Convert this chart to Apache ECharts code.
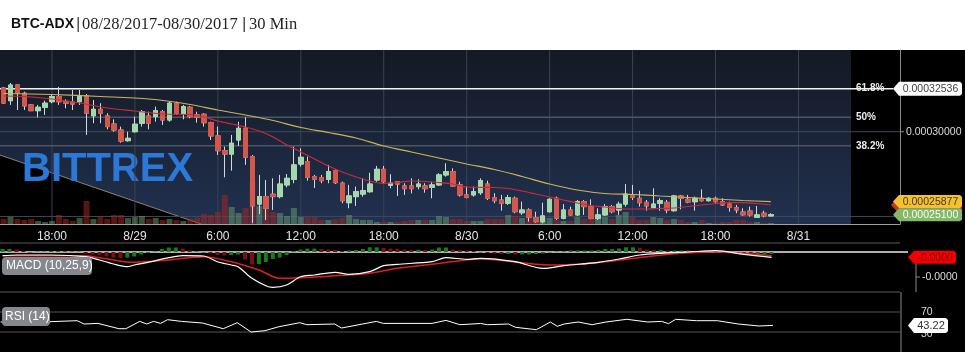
<!DOCTYPE html>
<html><head><meta charset="utf-8">
<script src="https://cdn.jsdelivr.net/npm/echarts@6/dist/echarts.min.js"></script>
<style>html,body{margin:0;padding:0;background:#fff;}#c{width:965px;height:352px;}</style>
</head><body><div id="c"></div>
<script>
// ---------------- data (prices in satoshi = 1e-8 BTC) ----------------
const firstCandle = '2017-08-28T14:30:00';
const candleMinutes = 30;
const viewStart = '2017-08-28T14:27:27';
const viewEnd = '2017-08-31T07:07:39';
// [open, close, low, high]
const ohlc = [
[32580,31690,31630,32640],[31830,32750,31580,32870],[32760,32300,31280,32810],[32270,31520,31280,32360],
[31580,31240,31220,31630],[31240,31440,30850,31580],[31440,31680,30990,31830],[31770,32070,31680,32170],
[32070,31770,31580,32650],[31790,31680,31380,31910],[31750,31630,31280,32460],[31770,32070,31580,32460],
[32110,31090,29810,32220],[30940,31320,30500,31870],[31320,31090,30500,31680],[30930,30300,30140,31090],
[30450,30100,30000,30730],[30100,29450,29350,30300],[29470,29610,29410,30000],[30000,30440,29940,30890],
[30500,31180,30300,31280],[30930,30500,30140,31180],[30890,31240,30590,31480],[31180,30690,30400,31280],
[30690,31680,30590,31770],[31680,31090,30990,31770],[31040,31480,30730,31580],[31440,30890,30790,31520],
[30990,30850,30530,31180],[31030,30530,30300,31090],[30530,29750,29510,30590],[29750,28880,28630,30300],
[28880,28680,27310,29120],[28680,29320,27700,29810],[29510,30200,29160,30590],[30200,28490,28040,30850],
[28530,25620,24600,28630],[25730,26170,25140,27450],[26170,25480,24790,27150],[26310,26170,25380,27250],
[26170,26910,26070,27450],[26860,27250,26720,27500],[27190,28040,26960,29120],[28090,28490,27940,29020],
[28230,27310,27110,28530],[27350,27190,26680,27450],[27290,27110,26960,27450],[27190,27640,26960,28040],
[27700,26990,26910,27780],[26960,25930,25780,27050],[25810,26210,25480,26860],[26170,26460,25620,26760],
[26320,26520,26170,27250],[26460,26910,26400,27580],[27150,27780,27050,27980],[27780,27050,26910,27980],
[26840,26960,26660,27490],[27050,26910,26210,27050],[26800,26640,26270,26960],[26800,26640,26360,27250],
[26760,26910,26600,27190],[26800,26640,26400,26960],[26720,26860,26070,27050],[26860,27450,26800,27550],
[27450,27640,27350,28140],[27640,26800,26760,27840],[26860,26270,26170,27050],[26270,26130,26070,26760],
[26270,26460,26170,26760],[26400,27110,26270,27250],[26910,26070,25970,27110],[26110,25930,25780,26370],
[25970,25780,25340,26270],[25780,26110,25680,26270],[26070,25280,25190,26170],[25220,25380,25090,25870],
[25380,24950,24690,25480],[24930,24690,24630,25280],[24690,25030,24600,25810],[25280,26010,25220,26070],
[26070,24890,24790,26170],[24890,25380,24830,25730],[25380,25090,25030,25580],[25090,25870,25030,25970],
[25870,25580,25090,25970],[25580,24890,24830,26010],[24890,25090,24790,25480],[25090,25580,25030,25730],
[25580,25280,25190,25680],[25380,25720,25090,25870],[25730,26320,25580,26910],[26270,26130,25970,26860],
[26070,25810,25580,26520],[25830,25620,25340,25970],[25520,25730,25480,26660],[25780,25930,25340,26070],
[25830,25380,25190,25970],[25340,26210,25280,26270],[26210,26070,25420,26270],[26010,25850,25780,26270],
[25870,26070,25340,26170],[26070,25930,25870,26600],[25930,26070,25870,26130],[26070,25870,25810,26170],
[25870,25680,25620,26070],[25730,25540,25280,25870],[25520,25380,25190,25680],[25260,25100,25030,25480],
[25320,25090,24990,25580],[24950,25090,24930,25620],[25190,25030,24950,25340],[25030,25100,25010,25190]
];
const volume = [
5,7,5,4,5,3,2,3,9,5,3,6,23,5,7,5,9,9,6,7,8,5,6,4,5,4,3,5,6,10,9,12,29,17,11,16,42,18,15,12,11,8,16,7,7,7,
4,4,5,6,9,5,4,4,2,2,2,2,3,4,4,4,4,8,7,5,5,3,3,3,5,5,5,9,8,6,6,6,7,6,4,3,3,7,5,7,8,7,5,9,12,7,4,4,7,6,4,5,
4,2,2,4,1,1,2,2,4,4,2,2,1,1
];
// moving averages, sampled [candle index, value]
const maFast = [[0,32106],[3,32077],[7,31929],[11,31693],[15,31398],[19,31221],[23,31044],[27,31015],[29,30867],
[31,30631],[33,30454],[35,30277],[37,30041],[39,29687],[41,29215],[43,28802],[45,28389],[47,27976],[49,27622],
[51,27327],[53,27091],[55,26944],[57,27003],[59,27091],[61,27062],[63,27003],[65,26914],[67,26737],[69,26719],
[71,26707],[73,26648],[75,26501],[77,26324],[79,26147],[81,25970],[83,25793],[85,25646],[87,25557],[89,25469],
[91,25439],[93,25439],[95,25469],[97,25498],[99,25587],[101,25675],[103,25763],[105,25811],[107,25811],[109,25763],[111,25675]];
const maSlow = [[0,32254],[7,32195],[14,32077],[21,31929],[27,31605],[31,31280],[35,30985],[39,30660],[43,30248],
[47,29953],[51,29628],[55,29156],[59,28802],[63,28448],[67,28094],[71,27770],[75,27357],[79,26914],[83,26560],
[87,26354],[91,26295],[95,26206],[99,26118],[103,26029],[107,25941],[111,25877]];
// MACD (10,25,9), in satoshi
const macdLine = [[0,-74],[2,-60],[7,-60],[12,-94],[14,-160],[16,-240],[18,-294],[19,-260],[21,-206],[24,-114],
[26,-74],[29,-80],[31,-194],[33,-260],[34,-294],[36,-526],[38,-674],[39,-706],[41,-660],[43,-494],[45,-460],
[48,-406],[50,-446],[53,-394],[55,-274],[57,-246],[62,-194],[64,-114],[67,-146],[69,-126],[74,-194],[78,-326],
[81,-274],[86,-206],[89,-140],[92,-60],[95,-26],[99,0],[103,26],[107,-46],[111,-106]];
const macdSignal = [[0,-74],[12,-74],[14,-114],[19,-206],[24,-160],[29,-94],[33,-194],[37,-360],[40,-526],[43,-514],
[48,-474],[53,-426],[57,-326],[62,-246],[69,-140],[79,-260],[83,-246],[88,-180],[93,-94],[98,-26],[103,6],[107,-26],[111,-74]];
const macdHist = [60,60,50,20,-10,10,10,20,20,15,10,10,-30,-50,-60,-90,-110,-120,-110,-90,-50,-20,10,60,90,90,70,
30,10,-10,-30,-60,-70,-60,-50,-150,-250,-240,-200,-140,-110,-60,20,50,68,68,60,50,40,20,30,40,60,94,94,80,70,60,
50,45,45,40,50,90,90,50,40,30,20,-10,-20,-30,-40,-40,-50,-50,-50,-40,-30,-10,10,15,30,30,30,30,40,60,60,70,
94,94,80,50,40,40,30,30,30,30,25,10,0,-10,-20,-30,-40,-45,-50,-50,-45,-40];
// RSI (14)
const rsi = [[0,50],[4,52],[7,50.6],[11,52.6],[12,46],[14,47.2],[17,36.6],[18,36.6],[20,51.2],[21,46],[22,51.2],
[23,47.2],[24,54.6],[26,51.2],[29,48],[32,36.6],[34,48.6],[36,30],[38,32.6],[40,40.6],[43,48.6],[44,44.6],[48,46],
[49,38],[54,51.2],[55,47.2],[62,47.2],[64,53.2],[66,44.6],[69,47],[70,44.6],[73,46],[74,39.4],[77,34.6],[79,50],
[80,41.4],[81,46],[83,50],[85,44.6],[87,50],[90,55.4],[93,50],[95,51.2],[96,46.6],[97,55.4],[100,52.6],[103,52.6],
[106,46],[109,42],[111,43.22]];
const fibLevels = [['61.8%',32536],['50%',30850],['38.2%',29170]];
const priceTicks = [30000, 25000];
const timeTicks = ['2017-08-28T18:00:00','2017-08-29T00:00:00','2017-08-29T06:00:00','2017-08-29T12:00:00',
  '2017-08-29T18:00:00','2017-08-30T00:00:00','2017-08-30T06:00:00','2017-08-30T12:00:00',
  '2017-08-30T18:00:00','2017-08-31T00:00:00'];
const timeLabels = ['18:00','8/29','6:00','12:00','18:00','8/30','6:00','12:00','18:00','8/31'];
const lastPrice = 25100, lastSlowMA = 25877, lastRsi = 43.22, macdTick = -500;
const rsiLevels = [70, 30];
const title = 'BTC-ADX', dateRange = '08/28/2017-08/30/2017', period = '30 Min';

// ---------------- chart ----------------
const T0 = new Date(firstCandle).getTime();
const STEP = candleMinutes * 60000;
const times = ohlc.map((_, i) => T0 + i * STEP);
const XMIN = new Date(viewStart).getTime(), XMAX = new Date(viewEnd).getTime();
const FONT = '"Liberation Sans", Arial, sans-serif';

const wickData = ohlc.map((d, i) => [times[i], d[0], d[1], d[2], d[3]]);
const bodyData = ohlc.map((d, i) => [times[i], d[0], d[1], Math.min(d[0], d[1]), Math.max(d[0], d[1])]);
const volData = volume.map((v, i) => ({
  value: [times[i], v],
  itemStyle: { color: ohlc[i][1] >= ohlc[i][0] ? 'rgba(105,150,105,0.55)' : 'rgba(160,40,35,0.55)' }
}));
const histData = macdHist.map((v, i) => ({
  value: [times[i], v],
  itemStyle: { color: (i > 0 && v < macdHist[i - 1]) ? '#7a1010' : '#1f7a1f' }
}));
const pts = arr => arr.map(p => [times[p[0]], p[1]]);

const xBase = (grid, extra) => Object.assign({ type: 'time', gridIndex: grid, min: XMIN, max: XMAX }, extra);

const option = {
  backgroundColor: '#000',
  animation: false,
  grid: [
    { left: 0, top: 50, width: 900, height: 174 },
    { left: 0, top: 243, width: 900, height: 49 },
    { left: 0, top: 297, width: 900, height: 50 }
  ],
  xAxis: [
    xBase(0, {
      axisLine: { show: true, lineStyle: { color: '#a0a0a0', width: 1 } },
      axisTick: { show: false }, axisLabel: { show: false }, splitLine: { show: false }
    }),
    xBase(1, { show: false }),
    xBase(2, { show: false })
  ],
  yAxis: [
    { type: 'value', gridIndex: 0, min: 24554, max: 34820, position: 'right',
      axisLine: { show: true, lineStyle: { color: '#8a8a8a' } }, axisTick: { show: false },
      axisLabel: { show: false }, splitLine: { show: false } },
    { type: 'value', gridIndex: 0, min: 0, max: 174, show: false, splitLine: { show: false } },
    { type: 'value', gridIndex: 1, min: -800, max: 180, show: false, splitLine: { show: false } },
    { type: 'value', gridIndex: 2, min: 0, max: 100, show: false, splitLine: { show: false } }
  ],
  series: [
    { type: 'bar', xAxisIndex: 0, yAxisIndex: 1, data: volData, barWidth: 6, z: 1 },
    { type: 'candlestick', xAxisIndex: 0, yAxisIndex: 0, data: wickData, encode: { x: 0, y: [1, 2, 3, 4] },
      barWidth: 5,
      itemStyle: { color: '#a3d8ad', color0: '#d4574a', borderColor: '#d6dadf', borderColor0: '#d6dadf', borderWidth: 1 } },
    { type: 'candlestick', xAxisIndex: 0, yAxisIndex: 0, data: bodyData, encode: { x: 0, y: [1, 2, 3, 4] },
      barWidth: 5,
      itemStyle: { color: '#a3d8ad', color0: '#d4574a', borderColor: '#a3d8ad', borderColor0: '#d4574a', borderWidth: 1 } },
    { type: 'line', xAxisIndex: 0, yAxisIndex: 0, data: pts(maFast), symbol: 'none', smooth: 0.3,
      lineStyle: { color: '#cc2a3c', width: 1.2 }, z: 4 },
    { type: 'line', xAxisIndex: 0, yAxisIndex: 0, data: pts(maSlow), symbol: 'none', smooth: 0.3,
      lineStyle: { color: '#c9b55c', width: 1.2 }, z: 4 },
    { type: 'bar', xAxisIndex: 1, yAxisIndex: 2, data: histData, barWidth: 4 },
    { type: 'line', xAxisIndex: 1, yAxisIndex: 2, data: pts(macdLine), symbol: 'none', smooth: 0.3,
      lineStyle: { color: '#ffffff', width: 1.2 }, z: 4 },
    { type: 'line', xAxisIndex: 1, yAxisIndex: 2, data: pts(macdSignal), symbol: 'none', smooth: 0.3,
      lineStyle: { color: '#e01e1e', width: 1.5 }, z: 3 },
    { type: 'line', xAxisIndex: 2, yAxisIndex: 3, data: pts(rsi), symbol: 'none',
      lineStyle: { color: '#ffffff', width: 1 }, z: 4 }
  ]
};

const chart = echarts.init(document.getElementById('c'), null, { width: 965, height: 352 });
chart.setOption(option);

const xPix = t => chart.convertToPixel({ xAxisIndex: 0 }, new Date(t).getTime());
const yMain = v => chart.convertToPixel({ yAxisIndex: 0 }, v);
const yMacd = v => chart.convertToPixel({ yAxisIndex: 2 }, v);
const yRsi = v => chart.convertToPixel({ yAxisIndex: 3 }, v);

const G = [];
const line = (x1, y1, x2, y2, color, w, z) => G.push({ type: 'line', z: z, silent: true,
  shape: { x1: x1, y1: y1, x2: x2, y2: y2 }, style: { stroke: color, lineWidth: w } });
const text = (x, y, s, font, fill, align, z) => G.push({ type: 'text', z: z || 50, x: x, y: y,
  style: { text: s, font: font, fill: fill, align: align || 'left', verticalAlign: 'middle' } });
const tag = (x0, x1, yc, h, fill, s, color, font) => {
  G.push({ type: 'polygon', z: 50, shape: { points: [[x0, yc], [x0 + 6, yc - h / 2], [x1 - 2, yc - h / 2], [x1, yc - h / 2 + 2], [x1, yc + h / 2 - 2], [x1 - 2, yc + h / 2], [x0 + 6, yc + h / 2]] },
    style: { fill: fill } });
  text((x0 + 6 + x1) / 2, yc + 0.5, s, font || '10.5px ' + FONT, color, 'center', 51);
};

// header
G.push({ type: 'rect', z: -10, shape: { x: 0, y: 0, width: 965, height: 50 }, style: { fill: '#ffffff' } });
text(11, 24, title, 'bold 14px ' + FONT, '#111', 'left', 5);
text(76, 24, '|', '17px ' + FONT, '#444', 'left', 5);
text(82, 25, dateRange, '16.5px "Liberation Serif", serif', '#222', 'left', 5);
text(242, 24, '|', '17px ' + FONT, '#444', 'left', 5);
text(249, 25, period, '16.5px "Liberation Serif", serif', '#222', 'left', 5);

// main plot background + watermark
G.push({ type: 'rect', z: -9, shape: { x: 0, y: 50, width: 851, height: 174 },
  style: { fill: new echarts.graphic.LinearGradient(0, 0, 0, 1, [{ offset: 0, color: '#141923' }, { offset: 1, color: '#213150' }]) } });
G.push({ type: 'polygon', z: -8, shape: { points: [[0, 155], [201, 224], [0, 224]] }, style: { fill: '#000' } });
line(0, 155, 201, 224, '#8d8474', 1, -8);
text(22, 170, 'BITTREX', 'bold 40px ' + FONT, '#2b78d6', 'left', -7);

// time grid + labels
timeTicks.forEach((t, i) => {
  const x = xPix(t);
  line(x, 50, x, 224, '#3b4250', 1, -6);
  text(x, 237, timeLabels[i], '12px ' + FONT, '#e6e6e6', 'center', 5);
});

// price grid & fib lines
priceTicks.forEach(v => line(0, yMain(v), 900, yMain(v), '#414958', 1, -6));
line(900, yMain(30000), 904, yMain(30000), '#8a8a8a', 1, -6);
fibLevels.forEach(([lab, v], i) => {
  if (i === 0) line(0, yMain(v), 893, yMain(v), '#f2f2f2', 1.5, -5);
  else line(0, yMain(v), 851, yMain(v), '#4d5566', 1.5, -6);
  text(856, yMain(v), lab, 'bold 10px ' + FONT, '#eeeeee');
});
text(906, yMain(30000), '0.00030000', '10.5px ' + FONT, '#dddddd');

// price tags
tag(891, 962, yMain(maFast[maFast.length - 1][1]), 13, '#c0392b', '', '#fff');
tag(893, 962, yMain(fibLevels[0][1]), 14, '#ffffff', (fibLevels[0][1] / 1e8).toFixed(8), '#444');
tag(893, 962, yMain(lastSlowMA), 13, '#f4c133', (lastSlowMA / 1e8).toFixed(8), '#4a3a10');
tag(893, 962, yMain(lastPrice), 13, '#86b86a', (lastPrice / 1e8).toFixed(8), '#f4fff0');

// MACD panel
line(0, 243, 900, 243, '#5a5a5a', 1, -6);
line(0, 292, 900, 292, '#5a5a5a', 1, -6);
line(0, yMacd(0), 908, yMacd(0), '#e8e8e8', 1.5, 1);
const macdLast = macdLine[macdLine.length - 1][1];
line(916, yMacd(macdLast), 916, 292, '#8a8a8a', 1, 1);
line(916, yMacd(macdTick), 920, yMacd(macdTick), '#8a8a8a', 1, 1);
text(922, yMacd(macdTick), (macdTick / 1e8).toFixed(4), '10.5px ' + FONT, '#dddddd');
tag(908, 956, yMacd(macdLast), 13, '#f00000', (macdLast / 1e8).toFixed(4), '#8b0000');
G.push({ type: 'rect', z: 50, shape: { x: 2, y: 257, width: 90, height: 18, r: 4 }, style: { fill: '#84878c' } });
text(6, 266, 'MACD (10,25,9)', '12px ' + FONT, '#ffffff', 'left', 51);

// RSI panel
rsiLevels.forEach(v => line(0, yRsi(v), 900, yRsi(v), '#555555', 1, -6));
line(901, 292, 901, 352, '#8a8a8a', 1, 1);
text(921, yRsi(70), '70', '10.5px ' + FONT, '#dddddd');
text(921, yRsi(30) + 2, '30', '10.5px ' + FONT, '#dddddd');
tag(908, 948, yRsi(lastRsi), 15, '#ffffff', lastRsi.toFixed(2), '#333', '11px ' + FONT);
G.push({ type: 'rect', z: 50, shape: { x: 2, y: 307, width: 48, height: 19, r: 4 }, style: { fill: '#84878c' } });
text(5, 316.5, 'RSI (14)', '12px ' + FONT, '#ffffff', 'left', 51);

chart.setOption({ graphic: { elements: G } });
</script>
</body></html>
